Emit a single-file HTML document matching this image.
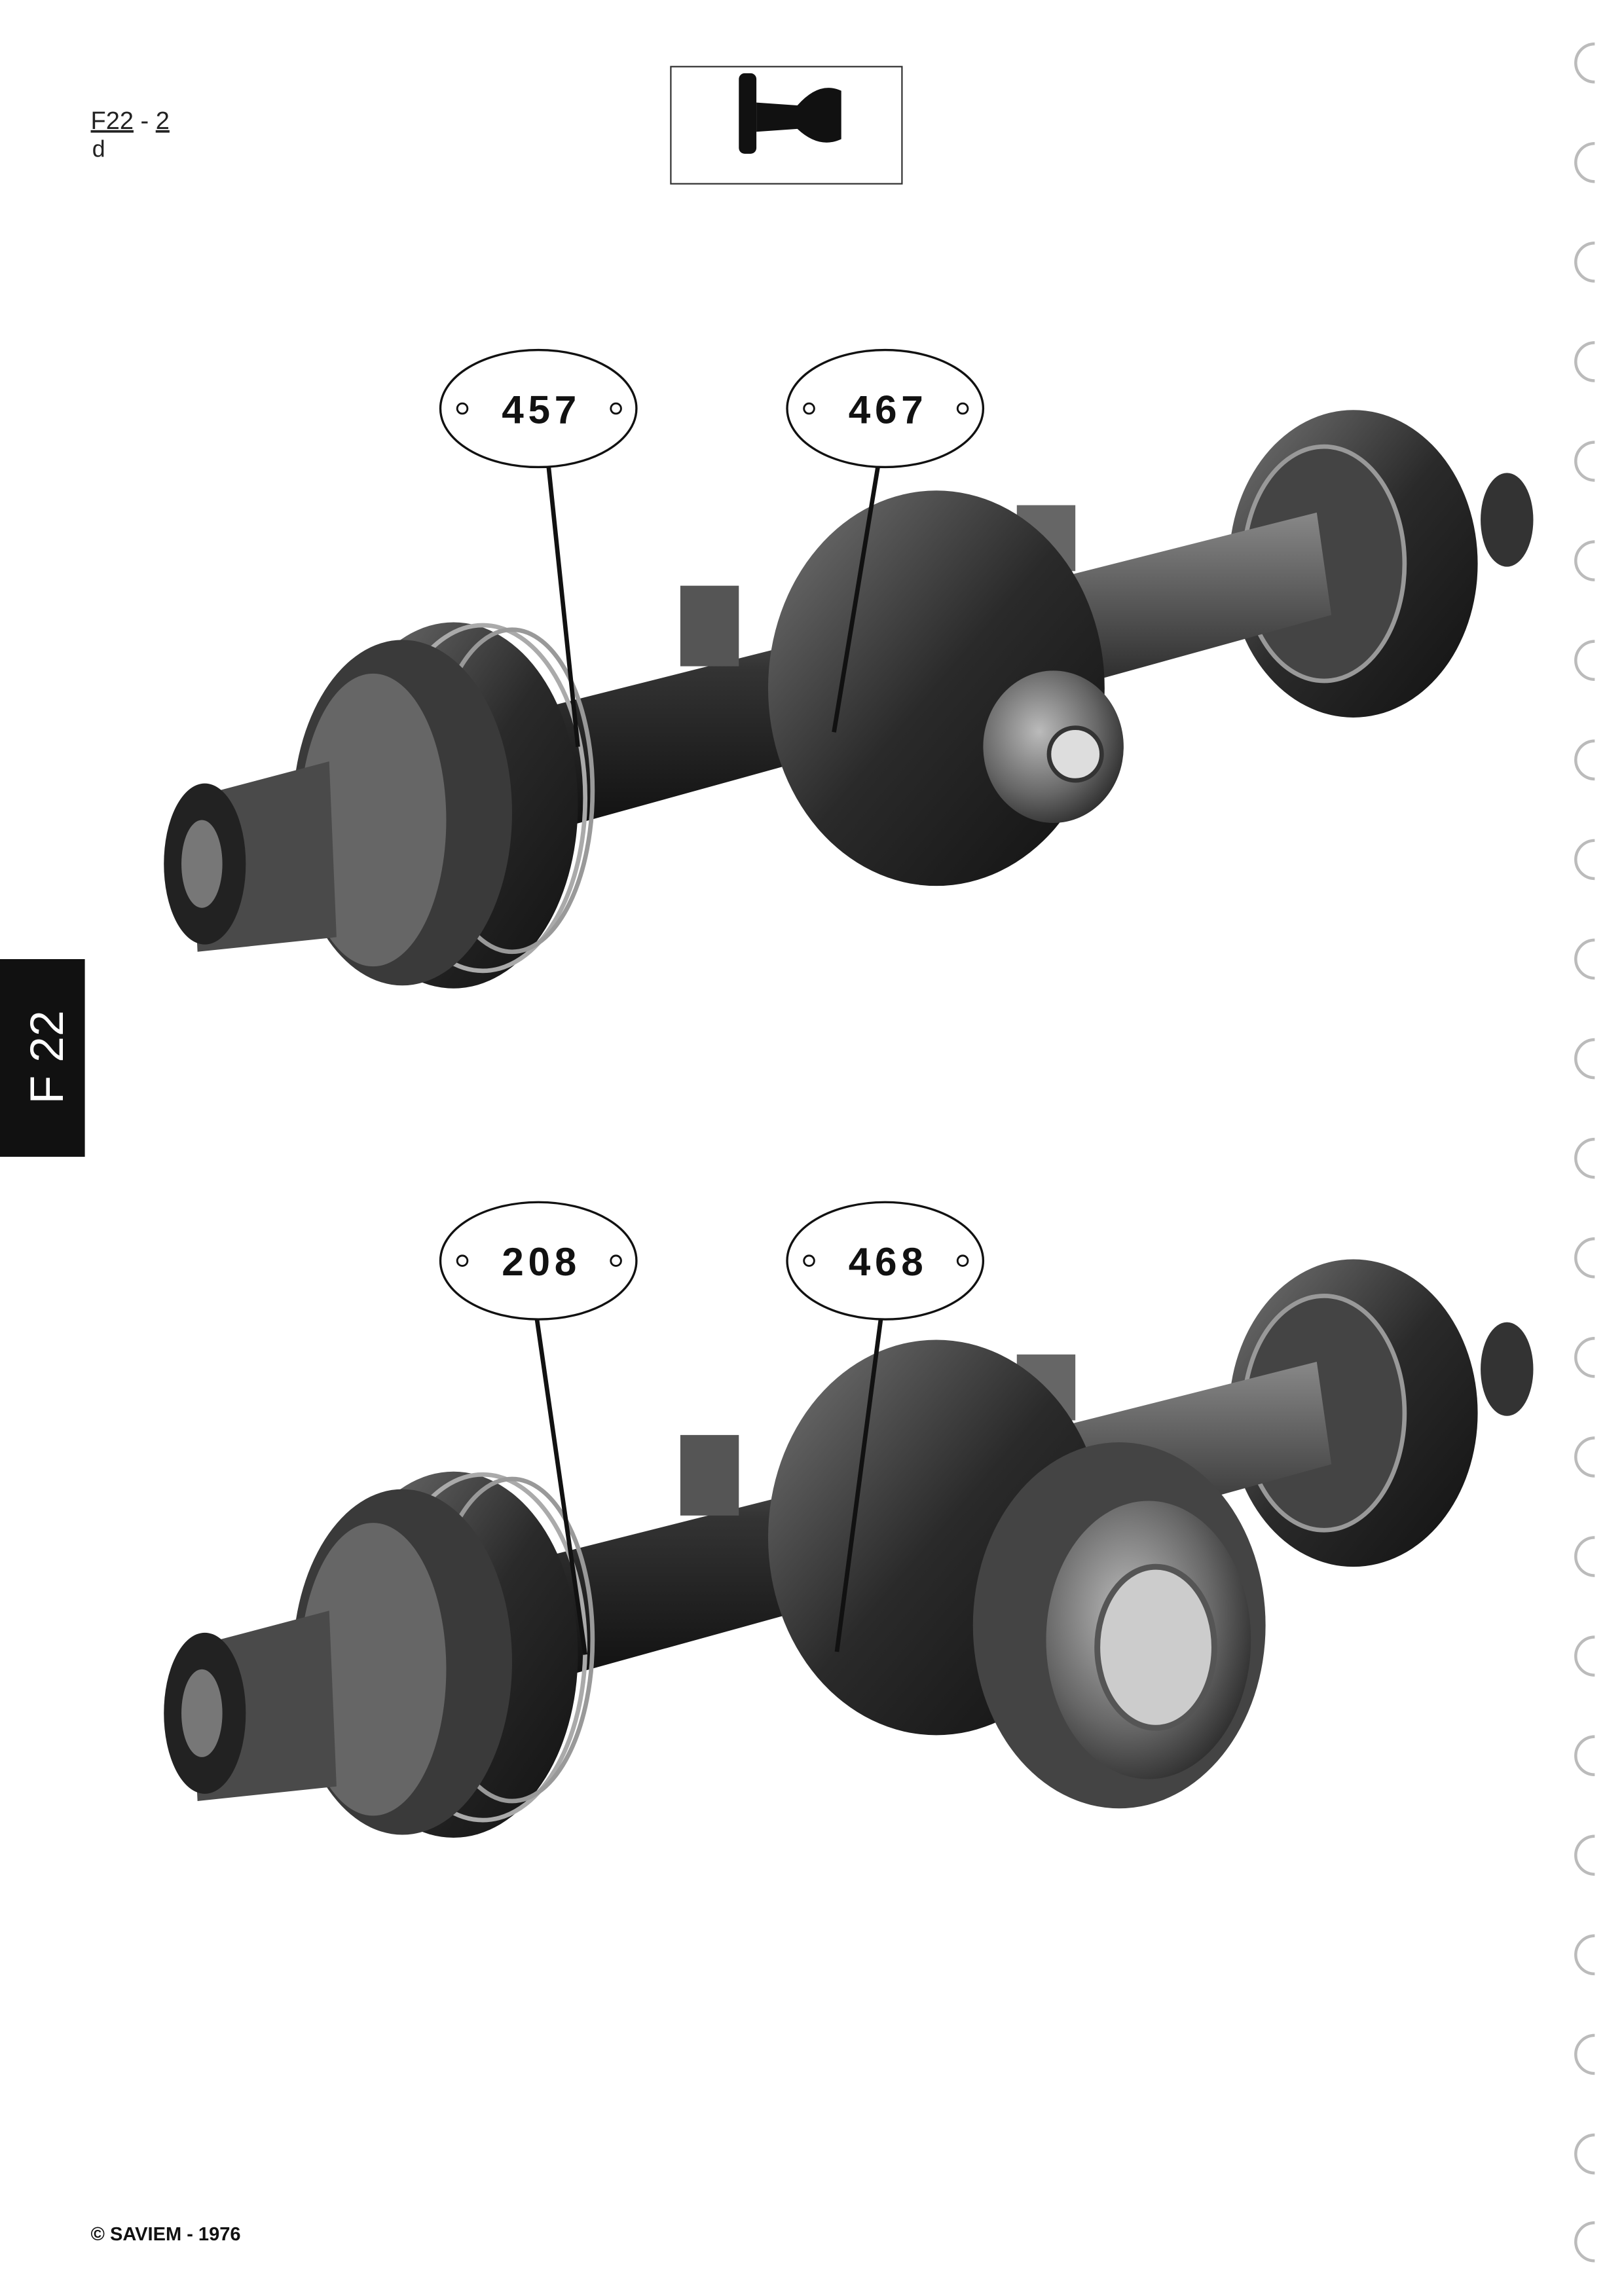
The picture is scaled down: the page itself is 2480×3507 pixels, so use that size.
<!DOCTYPE html>
<html><head><meta charset="utf-8"><style>
html,body{margin:0;padding:0;background:#fff}
svg{display:block}
</style></head><body>
<svg width="2480" height="3507" viewBox="0 0 1110 1568" preserveAspectRatio="none" xmlns="http://www.w3.org/2000/svg">
<defs>
<linearGradient id="g1" x1="0" y1="0" x2="1" y2="1"><stop offset="0" stop-color="#777"/><stop offset="0.5" stop-color="#2a2a2a"/><stop offset="1" stop-color="#111"/></linearGradient>
<linearGradient id="g2" x1="0" y1="0" x2="0" y2="1"><stop offset="0" stop-color="#888"/><stop offset="0.5" stop-color="#333"/><stop offset="1" stop-color="#111"/></linearGradient>
<radialGradient id="g3" cx="0.4" cy="0.4" r="0.7"><stop offset="0" stop-color="#bbb"/><stop offset="0.6" stop-color="#666"/><stop offset="1" stop-color="#222"/></radialGradient>
<g id="axle">
 <ellipse cx="925" cy="385" rx="85" ry="105" fill="url(#g1)"/>
 <ellipse cx="905" cy="385" rx="55" ry="80" fill="#444" stroke="#999" stroke-width="3"/>
 <ellipse cx="1030" cy="355" rx="18" ry="32" fill="#333"/>
 <polygon points="365,485 900,350 910,420 385,565" fill="url(#g2)"/>
 <rect x="465" y="400" width="40" height="55" fill="#555"/>
 <rect x="695" y="345" width="40" height="45" fill="#666"/>
 <ellipse cx="640" cy="470" rx="115" ry="135" fill="url(#g1)"/>
 <ellipse cx="310" cy="550" rx="85" ry="125" fill="url(#g1)"/>
 <ellipse cx="330" cy="545" rx="70" ry="118" fill="none" stroke="#aaa" stroke-width="3"/>
 <ellipse cx="350" cy="540" rx="55" ry="110" fill="none" stroke="#999" stroke-width="3"/>
 <ellipse cx="275" cy="555" rx="75" ry="118" fill="#3a3a3a"/>
 <ellipse cx="255" cy="560" rx="50" ry="100" fill="#666"/>
 <polygon points="130,545 225,520 230,640 135,650" fill="#4a4a4a"/>
 <ellipse cx="140" cy="590" rx="28" ry="55" fill="#222"/>
 <ellipse cx="138" cy="590" rx="14" ry="30" fill="#777"/>
</g>
</defs>

<text x="62" y="88" font-family="Liberation Sans, sans-serif" font-size="17" fill="#222"><tspan text-decoration="underline">F22</tspan> - <tspan text-decoration="underline">2</tspan></text>
<text x="63" y="107" font-family="Liberation Sans, sans-serif" font-size="16" fill="#222">d</text>
<rect x="458.5" y="45.5" width="158" height="80" fill="#fff" stroke="#333" stroke-width="1"/>
<rect x="505" y="50" width="12" height="55" rx="4" fill="#111"/>
<path d="M517,70 L545,72 Q560,55 575,62 L575,95 Q560,102 545,88 L517,90 Z" fill="#111"/>

<rect x="0" y="655" width="58" height="135" fill="#111"/>
<text transform="translate(43,722) rotate(-90)" text-anchor="middle" font-family="Liberation Sans, sans-serif" font-size="32" fill="#fff">F 22</text>

<g fill="none" stroke="#bbb" stroke-width="2">
<path d="M1090,30 a13,13 0 1,0 0,26"/><path d="M1090,98 a13,13 0 1,0 0,26"/><path d="M1090,166 a13,13 0 1,0 0,26"/>
<path d="M1090,234 a13,13 0 1,0 0,26"/><path d="M1090,302 a13,13 0 1,0 0,26"/><path d="M1090,370 a13,13 0 1,0 0,26"/>
<path d="M1090,438 a13,13 0 1,0 0,26"/><path d="M1090,506 a13,13 0 1,0 0,26"/><path d="M1090,574 a13,13 0 1,0 0,26"/>
<path d="M1090,642 a13,13 0 1,0 0,26"/><path d="M1090,710 a13,13 0 1,0 0,26"/><path d="M1090,778 a13,13 0 1,0 0,26"/>
<path d="M1090,846 a13,13 0 1,0 0,26"/><path d="M1090,914 a13,13 0 1,0 0,26"/><path d="M1090,982 a13,13 0 1,0 0,26"/>
<path d="M1090,1050 a13,13 0 1,0 0,26"/><path d="M1090,1118 a13,13 0 1,0 0,26"/><path d="M1090,1186 a13,13 0 1,0 0,26"/>
<path d="M1090,1254 a13,13 0 1,0 0,26"/><path d="M1090,1322 a13,13 0 1,0 0,26"/><path d="M1090,1390 a13,13 0 1,0 0,26"/>
<path d="M1090,1458 a13,13 0 1,0 0,26"/><path d="M1090,1518 a13,13 0 1,0 0,26"/>
</g>

<use href="#axle"/>
<ellipse cx="720" cy="510" rx="48" ry="52" fill="url(#g3)"/>
<circle cx="735" cy="515" r="18" fill="#ddd" stroke="#333" stroke-width="3"/>

<use href="#axle" transform="translate(0,580)"/>
<ellipse cx="765" cy="1110" rx="100" ry="125" fill="#444"/>
<ellipse cx="785" cy="1120" rx="70" ry="95" fill="url(#g3)"/>
<ellipse cx="790" cy="1125" rx="40" ry="55" fill="#ccc" stroke="#555" stroke-width="4"/>

<g font-family="Liberation Sans, sans-serif" font-size="27" font-weight="bold" fill="#111" text-anchor="middle" letter-spacing="3">
<ellipse cx="368" cy="279" rx="67" ry="40" fill="#fff" stroke="#111" stroke-width="1.5"/>
<text x="370" y="289">457</text>
<ellipse cx="605" cy="279" rx="67" ry="40" fill="#fff" stroke="#111" stroke-width="1.5"/>
<text x="607" y="289">467</text>
<ellipse cx="368" cy="861" rx="67" ry="40" fill="#fff" stroke="#111" stroke-width="1.5"/>
<text x="370" y="871">208</text>
<ellipse cx="605" cy="861" rx="67" ry="40" fill="#fff" stroke="#111" stroke-width="1.5"/>
<text x="607" y="871">468</text>
</g>
<g fill="none" stroke="#111" stroke-width="1.3">
<circle cx="316" cy="279" r="3.5"/><circle cx="421" cy="279" r="3.5"/>
<circle cx="553" cy="279" r="3.5"/><circle cx="658" cy="279" r="3.5"/>
<circle cx="316" cy="861" r="3.5"/><circle cx="421" cy="861" r="3.5"/>
<circle cx="553" cy="861" r="3.5"/><circle cx="658" cy="861" r="3.5"/>
</g>
<g stroke="#111" stroke-width="3">
<line x1="375" y1="319" x2="395" y2="510"/>
<line x1="600" y1="319" x2="570" y2="500"/>
<line x1="367" y1="901" x2="400" y2="1130"/>
<line x1="602" y1="901" x2="572" y2="1128"/>
</g>

<text x="62" y="1530" font-family="Liberation Sans, sans-serif" font-size="13" font-weight="bold" fill="#111">© SAVIEM - 1976</text>
</svg>
</body></html>
